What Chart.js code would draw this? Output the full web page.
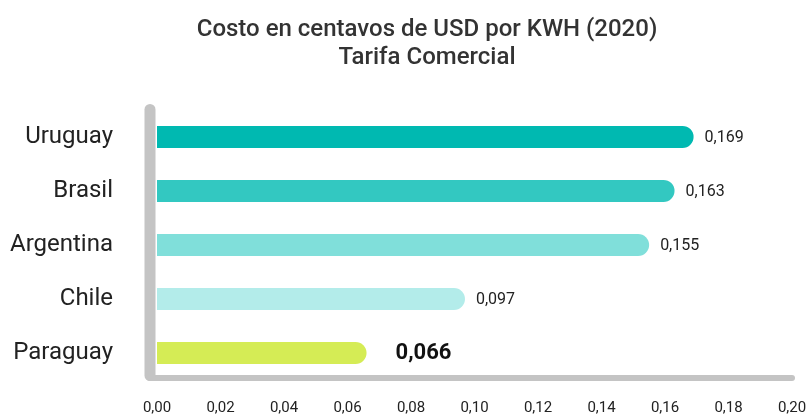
<!DOCTYPE html>
<html>
<head>
<meta charset="utf-8">
<script src="https://cdn.jsdelivr.net/npm/chart.js@4"></script>
<style>
html,body{margin:0;padding:0;background:#fff;overflow:hidden;}
canvas{display:block;}
</style>
</head>
<body>
<canvas id="c" width="810" height="417"></canvas>
<script>
const categories = ["Uruguay", "Brasil", "Argentina", "Chile", "Paraguay"];
const values = [0.169, 0.163, 0.155, 0.097, 0.066];
const valueLabels = ["0,169", "0,163", "0,155", "0,097", "0,066"];
const barColors = ["#00b9b1", "#33c8c1", "#80dfda", "#b3ecea", "#d5ec55"];
const xTickValues = [0, 0.02, 0.04, 0.06, 0.08, 0.10, 0.12, 0.14, 0.16, 0.18, 0.20];
const titleLines = ["Costo en centavos de USD por KWH (2020)", "Tarifa Comercial"];

const axisLines = {
  id: 'axisLines',
  beforeDatasetsDraw(chart) {
    const {ctx, chartArea: a} = chart;
    ctx.save();
    ctx.strokeStyle = '#c4c4c4';
    ctx.lineCap = 'round';
    const lx = a.left - 7;
    const by = a.bottom - 2;
    ctx.lineWidth = 6;
    ctx.beginPath();
    ctx.moveTo(lx, by);
    ctx.lineTo(a.right, by);
    ctx.stroke();
    ctx.lineWidth = 11;
    ctx.beginPath();
    ctx.moveTo(lx, a.top - 0.5);
    ctx.lineTo(lx, by - 2.5);
    ctx.stroke();
    ctx.restore();
  }
};

const valueLabelPlugin = {
  id: 'valueLabels',
  afterDatasetsDraw(chart) {
    const {ctx} = chart;
    const meta = chart.getDatasetMeta(0);
    ctx.save();
    ctx.textBaseline = 'middle';
    ctx.textAlign = 'left';
    meta.data.forEach((bar, i) => {
      const last = i === values.length - 1;
      ctx.fillStyle = last ? '#111' : '#222';
      ctx.font = last ? 'bold 22px Roboto' : '16px Roboto';
      ctx.fillText(valueLabels[i], bar.x + (last ? 29 : 11), bar.y + 1);
    });
    ctx.restore();
  }
};

new Chart(document.getElementById('c'), {
  type: 'bar',
  data: {
    labels: categories,
    datasets: [{
      data: values,
      backgroundColor: barColors,
      borderRadius: 11,
      borderSkipped: 'start',
      barPercentage: 0.41,
      categoryPercentage: 1
    }]
  },
  options: {
    indexAxis: 'y',
    responsive: false,
    animation: false,
    layout: { padding: { left: 0, right: -44, top: 0, bottom: 0 } },
    plugins: {
      legend: { display: false },
      tooltip: { enabled: false },
      title: {
        display: true,
        text: titleLines,
        color: '#333',
        font: { family: 'Roboto', size: 24, weight: '500', lineHeight: 1.17 },
        padding: { top: 16, bottom: 37.8 }
      }
    },
    scales: {
      x: {
        min: 0, max: 0.2,
        afterBuildTicks(scale) { scale.ticks = xTickValues.map(v => ({value: v})); },
        afterFit(scale) { scale.height = 37; scale.paddingRight = 18; scale.paddingLeft = 0; },
        grid: { display: false, drawTicks: false },
        border: { display: false },
        ticks: {
          color: '#222',
          font: { family: 'Roboto', size: 15 },
          padding: 19,
          maxRotation: 0,
          callback: (v) => Number(v).toFixed(2).replace('.', ',')
        }
      },
      y: {
        afterFit(scale) { scale.width = 157; scale.paddingTop = 0; scale.paddingBottom = 0; },
        grid: { display: false, drawTicks: false },
        border: { display: false },
        ticks: {
          color: '#222',
          font: { family: 'Roboto', size: 24 },
          padding: 44
        }
      }
    }
  },
  plugins: [axisLines, valueLabelPlugin]
});
</script>
</body>
</html>
